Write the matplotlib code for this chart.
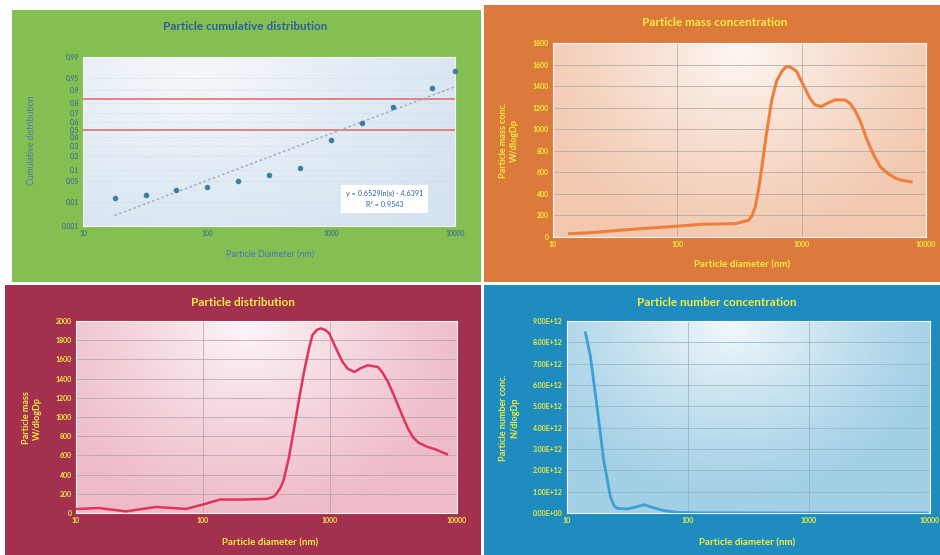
import numpy as np
import matplotlib
matplotlib.use("Agg")
import matplotlib.pyplot as plt
from matplotlib.patches import Rectangle
from matplotlib.colors import to_rgb
from statistics import NormalDist

W, H = 940, 555
plt.rcParams['font.family'] = ['Lato', 'DejaVu Sans']

# --- cumulative distribution (probability axis) ---
cum_diam = [18, 32, 56, 100, 178, 316, 562, 1000, 1780, 3160, 6500, 10000]
cum_frac = [0.0146, 0.0174, 0.026, 0.032, 0.051, 0.071, 0.11, 0.372, 0.58, 0.77, 0.907, 0.97]
cum_ticks = [0.001, 0.01, 0.05, 0.1, 0.2, 0.3, 0.4, 0.5, 0.6, 0.7, 0.8, 0.9, 0.95, 0.99]
ref_levels = [0.5, 0.84]
trend_a, trend_b, trend_r2 = 0.6529, -4.6391, 0.9543

# --- mass concentration ---
mass_diam = [13.6, 20, 34, 55, 97, 158, 293, 374, 400, 423, 450, 479, 520, 575, 630,
             692, 740, 782, 840, 912, 980, 1063, 1160, 1279, 1445, 1600, 1848, 2222,
             2450, 2671, 2950, 3211, 3500, 3860, 4300, 4934, 5600, 6310, 7586]
mass_conc = [31, 40, 62, 80, 99, 118, 124, 155, 200, 279, 440, 652, 950, 1272, 1450,
             1536, 1575, 1583, 1565, 1536, 1460, 1381, 1290, 1226, 1210, 1240, 1272,
             1272, 1240, 1179, 1080, 962, 850, 745, 650, 590, 550, 528, 512]

# --- particle distribution ---
dist_diam = [10.2, 15.1, 24.7, 42.7, 73.8, 106, 136, 208, 319, 360, 383, 410, 433,
             475, 520, 570, 624, 680, 727, 790, 847, 920, 986, 1060, 1149, 1260,
             1378, 1556, 1750, 1986, 2385, 2600, 2866, 3150, 3438, 3780, 4130, 4500,
             4955, 5800, 6730, 8320]
dist_mass = [42, 52, 17, 63, 42, 98, 140, 140, 147, 170, 210, 270, 350, 580, 874,
             1180, 1469, 1700, 1853, 1910, 1923, 1905, 1871, 1780, 1678, 1570, 1503,
             1469, 1510, 1538, 1521, 1460, 1364, 1240, 1119, 990, 874, 790, 734, 690,
             664, 612]

# --- number concentration ---
num_diam = [14.2, 15.6, 17.7, 20.1, 22.9, 24.5, 25.9, 31.4, 38, 43.2, 50.6, 63, 81,
            120, 300, 1000, 3000, 9500]
num_conc = [8.45e12, 7.35e12, 4.99e12, 2.47e12, 0.74e12, 0.35e12, 0.22e12, 0.19e12,
            0.30e12, 0.39e12, 0.27e12, 0.11e12, 0.03e12, 0.01e12, 0.005e12,
            0.003e12, 0.002e12, 0.002e12]

diam_ticks = [10, 100, 1000, 10000]
YELLOW = '#f2ee3e'
BLUE_TXT = '#2f5f9f'

_nd = NormalDist()


def probit(p):
    p = np.clip(np.asarray(p, dtype=float), 1e-9, 1 - 1e-9)
    return np.vectorize(_nd.inv_cdf, otypes=[float])(p)


def inv_probit(z):
    return np.vectorize(_nd.cdf, otypes=[float])(np.asarray(z, dtype=float))


fig = plt.figure(figsize=(W / 100, H / 100), dpi=100)
fig.patch.set_facecolor('white')


def panel(x0, y0, x1, y1, color):
    fig.add_artist(Rectangle((x0 / W, 1 - y1 / H), (x1 - x0) / W, (y1 - y0) / H,
                             transform=fig.transFigure, facecolor=color,
                             edgecolor='none', zorder=0))


def box(x0, y0, x1, y1):
    return [x0 / W, 1 - y1 / H, (x1 - x0) / W, (y1 - y0) / H]


def plot_area(x0, y0, x1, y1, base, cx, cy, rx, ry, strength):
    # soft glow behind the plotting area
    bg = fig.add_axes(box(x0, y0, x1, y1), zorder=1)
    yy, xx = np.mgrid[0:1:200j, 0:1:300j]
    r = np.sqrt(((xx - cx) / rx) ** 2 + ((yy - cy) / ry) ** 2)
    w = (strength * np.clip(1 - r, 0, 1) ** 1.2)[..., None]
    img = np.array(to_rgb(base)) * (1 - w) + w
    bg.imshow(img, extent=[0, 1, 0, 1], origin='lower', aspect='auto',
              interpolation='bilinear')
    bg.axis('off')
    ax = fig.add_axes(box(x0, y0, x1, y1), zorder=2)
    ax.set_facecolor('none')
    for s in ax.spines.values():
        s.set_color('#f4f4f4')
        s.set_linewidth(0.8)
    ax.tick_params(length=0, pad=3)
    return ax


def diameter_axis(ax):
    ax.set_xscale('log')
    ax.set_xlim(10, 10000)
    ax.set_xticks(diam_ticks)
    ax.set_xticklabels([str(t) for t in diam_ticks])
    ax.minorticks_off()


def bold_ticks(ax, color):
    ax.tick_params(labelsize=5, colors=color)
    for lab in ax.get_xticklabels() + ax.get_yticklabels():
        lab.set_fontweight('bold')


def fig_text(x, y, s, **kw):
    fig.text(x / W, 1 - y / H, s, ha='center', va='center', **kw)


# panels
panel(12, 10, 481, 282, '#84bf52')
panel(484, 5, 940, 282, '#dc7a3c')
panel(5, 285, 481, 555, '#a4304f')
panel(484, 285, 940, 555, '#1f8cbf')

# ---- top left: cumulative distribution ----
ax = plot_area(83, 57, 455, 226, '#d5e3f0', 0.3, 0.9, 0.9, 1.2, 0.75)
diameter_axis(ax)
ax.set_yscale('function', functions=(probit, inv_probit))
ax.set_ylim(0.001, 0.99)
ax.set_yticks(cum_ticks)
ax.set_yticklabels([f'{t:g}' for t in cum_ticks])
ax.minorticks_off()
ax.tick_params(labelsize=4.8, colors=BLUE_TXT)
ax.grid(axis='y', color='#c4d0dc', lw=0.5, ls=':')
for lvl in ref_levels:
    ax.axhline(lvl, color='#e07a7a', lw=1.3, zorder=3)
trend_d = np.geomspace(cum_diam[0], cum_diam[-1], 60)
ax.plot(trend_d, inv_probit(trend_a * np.log(trend_d) + trend_b),
        ls=(0, (1.5, 1.5)), color='#9fb3c6', lw=1.2, zorder=3)
ax.scatter(cum_diam, cum_frac, s=9, color='#3d7fa3', zorder=4, clip_on=False)
ax.text(0.81, 0.16, f'y = {trend_a}ln(x) - {abs(trend_b)}\nR² = {trend_r2}',
        transform=ax.transAxes, ha='center', va='center', fontsize=5.2,
        color=BLUE_TXT, linespacing=1.6,
        bbox=dict(facecolor='white', edgecolor='none', pad=3.5))
fig_text(245, 27, 'Particle cumulative distribution', fontsize=8.5,
         fontweight='bold', color=BLUE_TXT)
fig_text(270, 254, 'Particle Diameter (nm)', fontsize=6.5, color='#4a78b0')
fig_text(31, 140, 'Cumulative distribution', fontsize=6.2, color='#4a78b0',
         rotation=90)

# ---- top right: mass concentration ----
ax = plot_area(553, 43, 926, 237, '#f2c9b0', 0.5, 0.95, 0.6, 1.0, 0.85)
diameter_axis(ax)
ax.set_ylim(0, 1800)
ax.set_yticks(np.arange(0, 1801, 200))
bold_ticks(ax, YELLOW)
ax.grid(color='#a8a29c', lw=0.5)
ax.plot(mass_diam, mass_conc, color='#ee7f3c', lw=2.2, zorder=3)
fig_text(715, 22, 'Particle mass concentration', fontsize=8.5,
         fontweight='bold', color=YELLOW)
fig_text(742, 265, 'Particle diameter (nm)', fontsize=7, fontweight='bold',
         color=YELLOW)
fig_text(509, 140, 'Particle mass conc.\nW/dlogDp', fontsize=6.5,
         fontweight='bold', color=YELLOW, rotation=90, linespacing=1.3)

# ---- bottom left: particle distribution ----
ax = plot_area(76, 321, 457, 513, '#eebcc9', 0.45, 0.95, 0.6, 1.0, 0.85)
diameter_axis(ax)
ax.set_ylim(0, 2000)
ax.set_yticks(np.arange(0, 2001, 200))
bold_ticks(ax, YELLOW)
ax.grid(color='#b0a0a6', lw=0.5)
ax.plot(dist_diam, dist_mass, color='#e2345a', lw=1.8, zorder=3)
fig_text(243, 302, 'Particle distribution', fontsize=8.5, fontweight='bold',
         color=YELLOW)
fig_text(270, 543, 'Particle diameter (nm)', fontsize=7, fontweight='bold',
         color=YELLOW)
fig_text(32, 418, 'Particle mass\nW/dlogDp', fontsize=6.5, fontweight='bold',
         color=YELLOW, rotation=90, linespacing=1.3)

# ---- bottom right: number concentration ----
ax = plot_area(567, 321, 930, 513, '#a3d0e6', 0.45, 0.98, 0.6, 0.9, 0.85)
diameter_axis(ax)
num_ticks = np.arange(0, 9.1e12, 1e12)
ax.set_ylim(0, 9e12)
ax.set_yticks(num_ticks)
ax.set_yticklabels([f'{v:.2E}' for v in num_ticks])
bold_ticks(ax, YELLOW)
ax.grid(color='#8fb0c2', lw=0.5)
ax.plot(num_diam, num_conc, color='#3c9fd6', lw=2.0, zorder=3)
fig_text(717, 303, 'Particle number concentration', fontsize=8.5,
         fontweight='bold', color=YELLOW)
fig_text(747, 543, 'Particle diameter (nm)', fontsize=7, fontweight='bold',
         color=YELLOW)
fig_text(509, 418, 'Particle number conc.\nN/dlogDp', fontsize=6.5,
         fontweight='bold', color=YELLOW, rotation=90, linespacing=1.3)

fig.savefig('out.png', dpi=100)
